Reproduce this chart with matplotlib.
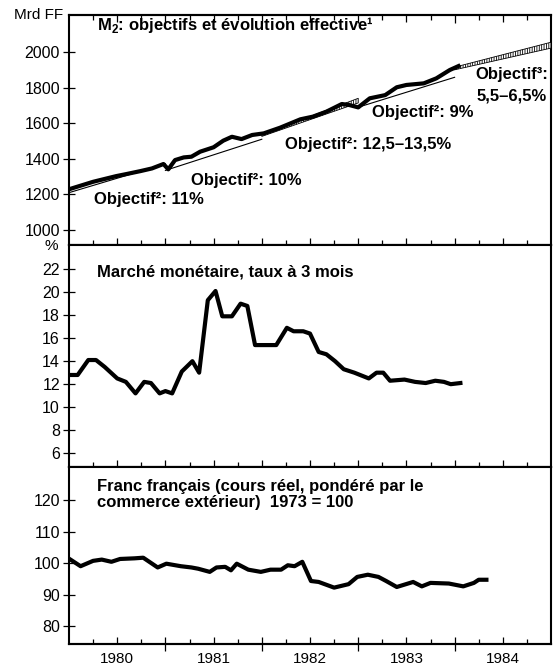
import matplotlib
matplotlib.use("Agg")
import matplotlib.pyplot as plt

plt.rcParams['font.family'] = ['Liberation Sans', 'DejaVu Sans']
plt.rcParams['mathtext.fontset'] = 'custom'
plt.rcParams['mathtext.rm'] = 'Liberation Sans'
plt.rcParams['mathtext.bf'] = 'Liberation Sans:bold'
plt.rcParams['hatch.linewidth'] = 0.6

# ---------------- data ----------------
m2_x = [1980.0, 1980.25, 1980.49, 1980.6, 1980.74, 1980.86, 1980.98, 1981.03, 1981.1,
        1981.19, 1981.27, 1981.36, 1981.5, 1981.6, 1981.69, 1981.79, 1981.9, 1982.02,
        1982.19, 1982.4, 1982.53, 1982.67, 1982.83, 1982.91, 1983.0, 1983.12, 1983.28,
        1983.4, 1983.5, 1983.68, 1983.81, 1983.95, 1984.04]
m2_y = [1229, 1271, 1303, 1315, 1331, 1346, 1371, 1341, 1393, 1408, 1412, 1440, 1465,
        1502, 1524, 1511, 1534, 1543, 1575, 1622, 1637, 1665, 1708, 1702, 1689, 1740,
        1758, 1802, 1815, 1824, 1852, 1899, 1921]

obj80_x = [1980.0, 1981.0]
obj80_y = [1210, 1372]
obj81_x = [1981.0, 1982.0]
obj81_y = [1335, 1510]
obj82_x = [1982.0, 1983.0]
obj82_lo = [1526, 1714]
obj82_hi = [1536, 1740]
obj83_x = [1983.0, 1984.0]
obj83_y = [1690, 1858]
obj84_x = [1984.0, 1985.0]
obj84_lo = [1900, 2022]
obj84_hi = [1915, 2055]

mm_x = [1980.0, 1980.09, 1980.2, 1980.28, 1980.37, 1980.5, 1980.59, 1980.69, 1980.78,
        1980.85, 1980.94, 1981.0, 1981.07, 1981.17, 1981.28, 1981.35, 1981.44, 1981.52,
        1981.59, 1981.69, 1981.78, 1981.85, 1981.93, 1982.15, 1982.26, 1982.33, 1982.43,
        1982.5, 1982.59, 1982.67, 1982.76, 1982.85, 1982.96, 1983.11, 1983.19, 1983.26,
        1983.33, 1983.48, 1983.59, 1983.7, 1983.8, 1983.89, 1983.96, 1984.06]
mm_y = [12.8, 12.8, 14.1, 14.1, 13.5, 12.5, 12.2, 11.2, 12.2, 12.1, 11.2, 11.4, 11.2,
        13.1, 14.0, 13.0, 19.3, 20.1, 17.9, 17.9, 19.0, 18.8, 15.4, 15.4, 16.9, 16.6,
        16.6, 16.4, 14.8, 14.6, 14.0, 13.3, 13.0, 12.5, 13.0, 13.0, 12.3, 12.4, 12.2,
        12.1, 12.3, 12.2, 12.0, 12.1]

fr_x = [1980.0, 1980.12, 1980.25, 1980.34, 1980.44, 1980.53, 1980.68, 1980.77, 1980.92,
        1981.01, 1981.16, 1981.27, 1981.34, 1981.46, 1981.53, 1981.62, 1981.68, 1981.74,
        1981.86, 1981.99, 1982.09, 1982.2, 1982.27, 1982.34, 1982.42, 1982.51, 1982.59,
        1982.75, 1982.9, 1982.99, 1983.1, 1983.21, 1983.29, 1983.4, 1983.57, 1983.66,
        1983.75, 1983.94, 1984.09, 1984.2, 1984.25, 1984.33]
fr_y = [101.4, 99.0, 100.7, 101.1, 100.4, 101.3, 101.5, 101.7, 98.6, 99.8, 99.0, 98.6,
        98.2, 97.2, 98.6, 98.8, 97.7, 99.8, 97.9, 97.2, 97.9, 97.9, 99.3, 99.0, 100.4,
        94.3, 94.0, 92.2, 93.3, 95.6, 96.3, 95.6, 94.3, 92.4, 94.0, 92.6, 93.7, 93.5,
        92.6, 93.7, 94.7, 94.7]

years = [1980, 1981, 1982, 1983, 1984]
year_labels = ['1980', '1981', '1982', '1983', '1984']
m2_ticks = [1000, 1200, 1400, 1600, 1800, 2000]
mm_ticks = [6, 8, 10, 12, 14, 16, 18, 20, 22]
fr_ticks = [80, 90, 100, 110, 120]

# ---------------- figure ----------------
W, H = 558, 669
fig = plt.figure(figsize=(W / 100, H / 100), dpi=100)

def px_axes(top, bottom, left=69, right=551):
    return fig.add_axes([left / W, 1 - bottom / H, (right - left) / W, (bottom - top) / H])

ax1 = px_axes(15, 245)
ax2 = px_axes(245, 467)
ax3 = px_axes(467, 644)

LW = 3.0
ax1.plot(m2_x, m2_y, color='black', lw=LW, solid_joinstyle='round', zorder=4)
ax1.plot(obj80_x, obj80_y, color='black', lw=0.8, zorder=3)
ax1.plot(obj81_x, obj81_y, color='black', lw=0.8, zorder=3)
ax1.plot(obj83_x, obj83_y, color='black', lw=0.8, zorder=3)
ax1.fill_between(obj82_x, obj82_lo, obj82_hi, facecolor='white', edgecolor='black',
                 hatch='|||||||', lw=0.6, zorder=3)
ax1.fill_between(obj84_x, obj84_lo, obj84_hi, facecolor='white', edgecolor='black',
                 hatch='|||||||', lw=0.6, zorder=3)

ax2.plot(mm_x, mm_y, color='black', lw=LW, solid_joinstyle='round')
ax3.plot(fr_x, fr_y, color='black', lw=LW, solid_joinstyle='round')

ax1.set_ylim(916, 2208)
ax2.set_ylim(4.8, 24.1)
ax3.set_ylim(74.3, 130.5)
ax1.set_yticks(m2_ticks)
ax2.set_yticks(mm_ticks)
ax3.set_yticks(fr_ticks)

half_years = [y + 0.5 for y in years]
quarters = [y + q for y in years for q in (0.25, 0.75)]

for ax in (ax1, ax2, ax3):
    ax.set_xlim(1980, 1985)
    for s in ax.spines.values():
        s.set_linewidth(1.5)
    ax.tick_params(axis='y', direction='inout', length=9, width=0.9, pad=2,
                   labelsize=11.5, right=False)
    ax.set_xticks(half_years)
    ax.set_xticks(quarters, minor=True)
    ax.tick_params(axis='x', which='major', direction='in', length=5, width=0.9)
    ax.tick_params(axis='x', which='minor', direction='in', length=3.5, width=0.9)
    ax.tick_params(axis='x', labelbottom=False)
    sec = ax.secondary_xaxis('bottom')
    sec.set_xticks(years[1:])
    sec.tick_params(direction='inout', length=10, width=0.9, labelbottom=False)
    sec.spines['bottom'].set_linewidth(1.5)

ax1.tick_params(axis='x', which='both', top=True)
sec_t = ax1.secondary_xaxis('top')
sec_t.set_xticks(years[1:])
sec_t.tick_params(direction='in', length=6, width=0.9, labeltop=False)
sec_t.spines['top'].set_linewidth(1.5)

ax3.set_xticks(half_years, labels=year_labels)
ax3.tick_params(axis='x', labelbottom=True, labelsize=11, pad=5.5)

# ---------------- texts ----------------
def ftext(x, y, s, **kw):
    fig.text(x / W, 1 - y / H, s, **kw)

ftext(63, 15, 'Mrd FF', ha='right', va='center', fontsize=11)
ftext(51, 246, '%', ha='center', va='center', fontsize=11)

B = dict(fontweight='bold', fontsize=12, va='center')
ftext(97, 25, r'M$_\mathbf{2}$: objectifs et évolution effective¹', ha='left', **B)
ftext(94, 199, 'Objectif²: 11%', ha='left', **B)
ftext(191, 181, 'Objectif²: 10%', ha='left', **B)
ftext(285, 145, 'Objectif²: 12,5–13,5%', ha='left', **B)
ftext(372, 113, 'Objectif²: 9%', ha='left', **B)
ftext(548, 74, 'Objectif³:', ha='right', **B)
ftext(547, 96, '5,5–6,5%', ha='right', **B)

ftext(97, 272, 'Marché monétaire, taux à 3 mois', ha='left', **B)
ftext(97, 487, 'Franc français (cours réel, pondéré par le', ha='left', **B)
ftext(97, 503, 'commerce extérieur)  1973 = 100', ha='left', **B)

fig.savefig('out.png', dpi=100)
